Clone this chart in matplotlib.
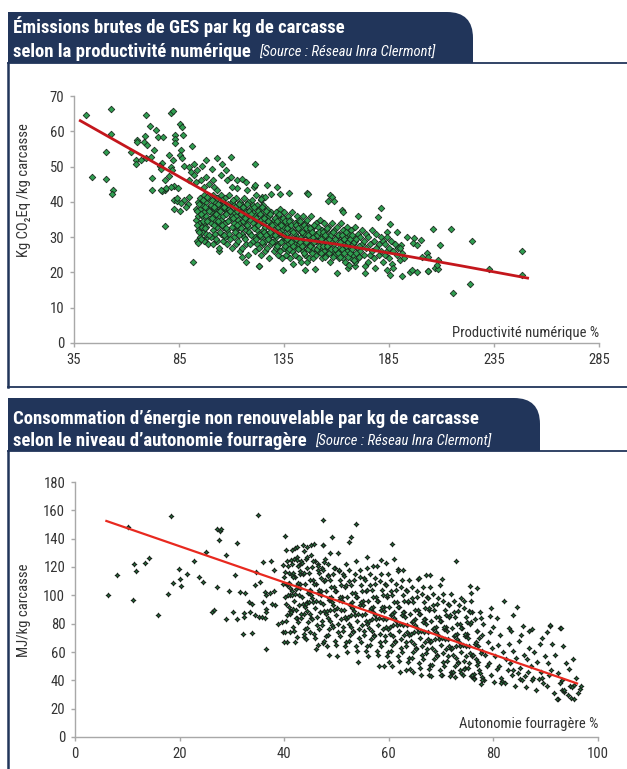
import numpy as np
import matplotlib.pyplot as plt
from matplotlib import font_manager as fm
from matplotlib.path import Path
from matplotlib.patches import PathPatch
from matplotlib.lines import Line2D

# DATA - panel 1 : GES vs productivite numerique
# scattered farms around the main cloud
prod_outer = [40.6, 52.5, 69.4, 81.0, 82.3, 52.5, 85.5, 86.6, 71.0, 73.9,
              75.2, 77.2, 83.1, 83.1, 83.1, 86.9, 69.0, 68.3, 69.6, 64.8,
              64.8, 50.1, 62.3, 73.1, 91.0, 85.8, 85.5, 86.6, 87.4, 80.2,
              82.3, 76.7, 76.0, 69.4, 71.8, 64.4, 64.4, 66.7, 81.0, 81.8,
              78.2, 80.2, 76.3, 43.4, 50.4, 53.6, 53.3, 72.0, 72.0, 78.3,
              77.1, 82.6, 84.7, 82.6, 84.2, 85.5, 82.6, 89.4, 89.8, 78.3,
              91.8, 104.0, 117.0, 123.1, 121.2, 109.6, 89.8, 92.1, 93.7, 96.1,
              97.7, 100.9, 103.3, 105.6, 107.2, 104.8, 108.0, 90.6, 92.1, 89.8,
              92.9, 95.3, 96.9, 99.3, 101.7, 103.3, 101.3, 97.7, 109.6, 112.8,
              115.2, 116.7, 120.7, 117.5, 112.8, 110.4, 123.9, 124.7, 121.5, 119.9,
              87.4, 88.2, 84.2, 85.8, 76.3, 78.7, 81.0, 93.7, 96.1, 98.5,
              94.0, 121.2, 126.8, 131.8, 137.6, 146.1, 133.1, 128.8, 126.0, 123.9,
              156.9, 158.0, 156.1, 158.8, 181.0, 162.8, 163.3, 170.4, 179.9, 185.5,
              183.9, 188.7, 206.1, 214.4, 209.3, 193.4, 197.1, 200.1, 196.6, 198.2,
              203.0, 203.7, 200.6, 208.2, 190.6, 189.5, 191.0, 190.2, 186.6, 187.1,
              183.9, 185.5, 191.0, 195.0, 196.1, 198.2, 203.7, 206.9, 208.5, 215.6,
              123.1, 134.7, 139.5, 145.0, 149.8, 160.1, 165.6, 173.6, 178.3, 173.6,
              168.8, 146.3, 224.3, 248.2, 248.2, 232.6, 223.6, 207.7, 203.7, 115.0]
ges_outer = [64.5, 66.2, 64.7, 65.2, 65.7, 59.3, 62.1, 61.2, 61.5, 60.4,
             58.3, 58.3, 59.0, 57.9, 56.7, 59.0, 58.7, 56.9, 56.0, 57.6,
             57.0, 54.1, 54.0, 54.6, 55.7, 54.6, 53.4, 52.3, 50.1, 53.4,
             51.8, 51.0, 50.1, 52.3, 52.7, 51.8, 50.6, 51.8, 49.9, 48.9,
             46.1, 47.3, 49.4, 47.1, 46.4, 43.5, 42.2, 46.9, 43.3, 43.3,
             43.1, 44.5, 43.8, 40.6, 40.2, 37.4, 38.0, 39.3, 41.4, 33.1,
             22.9, 26.1, 23.0, 21.9, 50.6, 52.8, 49.9, 50.8, 48.9, 50.3,
             51.8, 49.4, 52.3, 50.8, 48.9, 47.5, 46.1, 48.5, 47.5, 46.1,
             45.7, 46.1, 44.2, 45.2, 44.2, 43.3, 46.1, 47.1, 47.1, 46.1,
             46.6, 45.7, 44.2, 43.3, 43.8, 44.2, 40.5, 41.4, 41.9, 40.5,
             40.5, 38.6, 41.0, 39.6, 43.3, 43.8, 44.1, 29.0, 31.4, 30.0,
             28.4, 44.7, 44.7, 44.1, 42.4, 42.4, 42.1, 42.1, 41.4, 40.7,
             41.9, 41.4, 40.2, 40.3, 38.4, 37.6, 37.0, 35.9, 35.6, 33.7,
             31.5, 31.5, 32.3, 32.2, 27.8, 29.9, 29.8, 29.2, 28.2, 27.8,
             25.4, 24.5, 24.5, 23.6, 27.8, 26.9, 25.4, 23.6, 22.4, 21.2,
             20.7, 19.3, 19.0, 20.2, 20.7, 20.0, 20.4, 21.2, 21.0, 14.3,
             21.7, 20.7, 22.4, 20.7, 21.0, 19.9, 21.2, 19.8, 21.2, 21.7,
             21.9, 42.2, 28.8, 26.1, 19.3, 20.9, 16.7, 22.1, 20.5, 24.5]

# dense core of the cloud
prod_core = [93, 93, 94, 94, 94, 95, 95, 95, 95, 96, 96, 96,
             97, 97, 97, 97, 98, 98, 98, 98, 99, 99, 99, 99,
             100, 100, 100, 100, 101, 101, 101, 101, 102, 102, 102, 102,
             103, 103, 103, 103, 104, 104, 104, 104, 105, 105, 105, 105,
             106, 106, 106, 106, 107, 107, 107, 107, 108, 108, 108, 108,
             109, 109, 109, 109, 110, 110, 110, 110, 111, 111, 111, 111,
             112, 112, 112, 112, 113, 113, 113, 113, 114, 114, 114, 114,
             115, 115, 115, 115, 116, 116, 116, 116, 117, 117, 117, 117,
             118, 118, 118, 118, 119, 119, 119, 119, 120, 120, 120, 120,
             121, 121, 121, 121, 122, 122, 122, 122, 123, 123, 123, 123,
             124, 124, 124, 124, 125, 125, 125, 125, 126, 126, 126, 126,
             127, 127, 127, 127, 128, 128, 128, 128, 129, 129, 129, 129,
             130, 130, 130, 130, 131, 131, 131, 131, 132, 132, 132, 132,
             133, 133, 133, 133, 134, 134, 134, 134, 135, 135, 135, 135,
             136, 136, 136, 136, 137, 137, 137, 137, 138, 138, 138, 138,
             139, 139, 139, 139, 140, 140, 140, 140, 141, 141, 141, 141,
             142, 142, 142, 142, 143, 143, 143, 143, 144, 144, 144, 144,
             145, 145, 145, 145, 146, 146, 146, 146, 147, 147, 147, 147,
             148, 148, 148, 148, 149, 149, 149, 149, 150, 150, 150, 150,
             151, 151, 151, 152, 152, 152, 153, 153, 153, 154, 154, 154,
             155, 155, 155, 156, 156, 156, 157, 157, 157, 158, 158, 158,
             159, 159, 159, 160, 160, 160, 161, 161, 161, 162, 162, 162,
             163, 163, 163, 164, 164, 164, 165, 165, 165, 166, 166, 166,
             167, 167, 167, 168, 168, 168, 169, 169, 169, 170, 170, 170,
             171, 171, 172, 172, 173, 173, 174, 174, 175, 175, 176, 176,
             177, 177, 178, 178, 179, 179, 180, 180, 181, 181, 182, 182,
             183, 183, 184, 184, 185, 185, 186, 187, 188, 189, 190, 192]
ges_core = [38, 35, 40, 36, 32, 41, 38, 34, 30, 39, 36, 33,
            42, 37, 34, 29, 40, 36, 33, 31, 41, 38, 35, 28,
            39, 37, 34, 30, 42, 36, 32, 28, 40, 38, 35, 31,
            41, 37, 33, 29, 39, 36, 34, 27, 42, 38, 35, 31,
            40, 36, 33, 29, 41, 38, 34, 30, 39, 37, 32, 28,
            42, 38, 35, 31, 40, 36, 33, 27, 39, 37, 34, 30,
            41, 36, 32, 28, 38, 35, 33, 29, 40, 37, 34, 26,
            39, 36, 31, 27, 41, 38, 34, 30, 37, 35, 32, 28,
            40, 36, 33, 25, 38, 35, 31, 28, 39, 37, 34, 29,
            36, 33, 30, 26, 39, 35, 32, 28, 38, 34, 31, 27,
            37, 35, 30, 25, 39, 34, 32, 28, 36, 33, 29, 26,
            38, 35, 31, 27, 36, 33, 30, 24, 37, 34, 31, 28,
            35, 32, 29, 26, 37, 34, 30, 27, 36, 33, 28, 25,
            38, 34, 31, 26, 35, 32, 29, 24, 37, 33, 30, 27,
            34, 31, 29, 25, 36, 33, 28, 26, 35, 32, 30, 24,
            37, 32, 29, 26, 34, 31, 28, 25, 36, 33, 30, 27,
            35, 32, 28, 24, 33, 30, 27, 23, 36, 31, 29, 26,
            34, 31, 28, 25, 35, 32, 29, 23, 33, 30, 27, 24,
            36, 32, 28, 26, 33, 30, 27, 24, 34, 31, 29, 25,
            33, 29, 26, 35, 31, 27, 32, 28, 24, 34, 30, 26,
            32, 29, 25, 33, 30, 27, 31, 28, 23, 34, 29, 26,
            32, 28, 25, 33, 30, 26, 31, 27, 24, 34, 29, 25,
            32, 28, 24, 30, 27, 23, 33, 29, 26, 31, 28, 22,
            32, 27, 24, 30, 28, 25, 33, 29, 23, 31, 27, 24,
            30, 26, 32, 28, 29, 25, 31, 27, 30, 23, 28, 25,
            32, 26, 29, 24, 31, 27, 28, 25, 30, 26, 29, 23,
            28, 25, 30, 26, 27, 24, 29, 26, 28, 25, 27, 24]

# in-between farms of the core (half-unit productivity)
prod_mid = [93.5, 93.5, 94.5, 94.5, 95.5, 95.5, 96.5, 96.5, 97.5, 97.5, 98.5, 98.5,
            99.5, 99.5, 100.5, 100.5, 101.5, 101.5, 102.5, 102.5, 103.5, 103.5, 104.5, 104.5,
            105.5, 105.5, 106.5, 106.5, 107.5, 107.5, 108.5, 108.5, 109.5, 109.5, 110.5, 110.5,
            111.5, 111.5, 112.5, 112.5, 113.5, 113.5, 114.5, 114.5, 115.5, 115.5, 116.5, 116.5,
            117.5, 117.5, 118.5, 118.5, 119.5, 119.5, 120.5, 120.5, 121.5, 121.5, 122.5, 122.5,
            123.5, 123.5, 124.5, 124.5, 125.5, 125.5, 126.5, 126.5, 127.5, 127.5, 128.5, 128.5,
            129.5, 129.5, 130.5, 130.5, 131.5, 131.5, 132.5, 132.5, 133.5, 133.5, 134.5, 134.5,
            135.5, 135.5, 136.5, 136.5, 137.5, 137.5, 138.5, 138.5, 139.5, 139.5, 140.5, 140.5,
            141.5, 141.5, 142.5, 142.5, 143.5, 143.5, 144.5, 144.5, 145.5, 145.5, 146.5, 146.5,
            147.5, 147.5, 148.5, 148.5, 149.5, 149.5, 150.5, 150.5, 151.5, 151.5, 152.5, 152.5,
            153.5, 153.5, 154.5, 154.5, 155.5, 155.5, 156.5, 156.5, 157.5, 157.5, 158.5, 158.5,
            159.5, 159.5, 160.5, 160.5, 161.5, 161.5, 162.5, 162.5, 163.5, 163.5, 164.5, 164.5,
            165.5, 165.5, 166.5, 166.5, 167.5, 167.5, 168.5, 168.5, 169.5, 169.5, 170.5, 170.5]
ges_mid = [37.5, 33.5, 39.5, 31.5, 36.5, 29.5, 40.5, 34.5, 38.5, 32.5, 41.5, 34.5,
           37.5, 30.5, 40.5, 35.5, 38.5, 33.5, 36.5, 29.5, 39.5, 34.5, 37.5, 31.5,
           40.5, 33.5, 38.5, 30.5, 36.5, 32.5, 39.5, 34.5, 37.5, 29.5, 40.5, 35.5,
           38.5, 31.5, 37.5, 33.5, 39.5, 30.5, 36.5, 32.5, 38.5, 34.5, 35.5, 29.5,
           39.5, 33.5, 37.5, 31.5, 36.5, 30.5, 38.5, 32.5, 35.5, 29.5, 37.5, 33.5,
           36.5, 30.5, 38.5, 28.5, 35.5, 31.5, 37.5, 30.5, 34.5, 29.5, 36.5, 31.5,
           33.5, 28.5, 35.5, 30.5, 34.5, 27.5, 36.5, 31.5, 33.5, 28.5, 35.5, 30.5,
           34.5, 27.5, 32.5, 29.5, 34.5, 26.5, 33.5, 28.5, 31.5, 27.5, 33.5, 29.5,
           32.5, 26.5, 34.5, 28.5, 31.5, 27.5, 33.5, 25.5, 32.5, 28.5, 30.5, 26.5,
           32.5, 27.5, 31.5, 25.5, 33.5, 28.5, 30.5, 26.5, 31.5, 27.5, 29.5, 25.5,
           31.5, 27.5, 30.5, 24.5, 32.5, 27.5, 29.5, 25.5, 30.5, 26.5, 31.5, 24.5,
           29.5, 26.5, 30.5, 25.5, 28.5, 24.5, 30.5, 26.5, 29.5, 25.5, 31.5, 27.5,
           28.5, 24.5, 29.5, 25.5, 30.5, 26.5, 28.5, 23.5, 29.5, 25.5, 27.5, 24.5]

# red trend curve
trend_prod = [38, 136, 160, 190, 220, 251]
trend_ges = [63.0, 30.0, 28.0, 25.0, 21.8, 18.4]

# DATA - panel 2 : energie vs autonomie fourragere
auto_outer = [6.4, 8.1, 10.2, 11.3, 11.6, 11.1, 13.4, 14.2, 15.9, 18.4,
              17.7, 18.7, 19.8, 20.0, 20.2, 21.4, 22.8, 23.8, 24.4, 25.0,
              27.1, 27.7, 27.9, 27.6, 28.9, 27.1, 29.5, 30.9, 30.6, 26.2,
              26.5, 28.9, 30.3, 31.0, 32.1, 33.9, 31.6, 32.5, 32.3, 32.3,
              33.3, 33.8, 33.5, 34.4, 35.1, 35.7, 36.3, 34.9, 35.9, 37.5,
              38.1, 39.8, 34.7, 35.4, 34.4, 36.3, 37.3, 38.1, 36.5, 40.2,
              47.4, 41.4, 42.0, 42.4, 43.6, 44.3, 45.2, 45.7, 47.5, 38.2,
              36.6, 36.5, 37.6, 35.9, 36.6, 39.5, 38.9, 39.8, 40.5, 41.1,
              42.4, 43.7, 44.9, 46.5, 47.5, 48.5, 40.0, 43.7, 42.4, 41.1,
              41.7, 44.3, 41.1, 42.2, 39.8, 40.2, 41.4, 43.1, 42.8, 44.1,
              45.1, 46.4, 47.7, 48.4, 57.0, 53.7, 49.1, 52.3, 52.7, 60.6,
              47.5, 48.8, 50.2, 72.8, 61.8, 62.7, 65.5, 67.1, 67.8, 70.2,
              75.5, 76.8, 75.7, 82.1, 84.6, 83.8, 79.3, 80.7, 82.9, 85.6,
              86.9, 90.8, 92.7, 90.2, 59.1, 60.7, 63.2, 64.7, 67.6, 72.6,
              76.3, 77.6, 77.9, 86.1, 85.1, 87.3, 89.2, 81.7, 81.5, 83.8,
              94.8, 92.3, 93.5, 93.2, 96.5, 95.5, 55.8, 58.5, 59.5, 61.0]
mj_outer = [100.5, 114.1, 148.2, 121.9, 116.9, 96.5, 123.0, 126.3, 86.0, 156.0,
            101.2, 109.0, 118.8, 111.8, 106.3, 114.8, 124.1, 112.9, 109.6, 130.4,
            146.6, 145.2, 146.6, 138.8, 128.8, 105.6, 103.4, 137.2, 114.6, 88.2,
            89.4, 83.5, 88.2, 83.5, 72.5, 73.2, 102.2, 101.7, 87.5, 84.7,
            95.3, 93.6, 88.2, 85.9, 84.7, 84.5, 84.2, 156.4, 123.6, 124.5,
            118.2, 121.2, 116.8, 109.3, 107.4, 102.7, 101.5, 103.4, 62.4, 141.8,
            153.2, 131.7, 133.3, 134.0, 135.2, 134.0, 135.7, 136.4, 135.2, 93.4,
            90.7, 88.3, 94.1, 95.3, 100.0, 81.1, 80.0, 74.1, 67.0, 74.1,
            70.6, 70.6, 74.1, 64.7, 66.6, 57.7, 67.0, 86.7, 84.3, 86.7,
            90.3, 95.3, 100.0, 104.7, 108.3, 116.6, 114.2, 115.4, 121.3, 126.0,
            128.4, 117.8, 123.7, 114.2, 121.0, 150.6, 141.2, 137.6, 141.2, 136.0,
            135.3, 130.0, 129.8, 123.9, 118.3, 117.6, 111.8, 114.6, 114.6, 111.8,
            106.3, 105.4, 101.7, 95.7, 91.7, 85.9, 85.2, 84.0, 77.2, 78.2,
            74.9, 78.2, 76.8, 74.0, 50.1, 49.8, 47.5, 45.9, 44.0, 42.4,
            44.7, 37.7, 42.4, 42.9, 41.1, 40.0, 41.9, 39.7, 38.4, 47.5,
            27.8, 27.1, 31.9, 33.0, 34.0, 37.0, 127.0, 125.0, 123.0, 126.0]

auto_core = [40.1, 40.6, 40.3, 40.8, 40.5, 40.0, 40.7, 40.4, 41.7, 41.2, 41.9, 41.4, 41.0, 41.6, 41.3, 41.8,
             42.1, 42.6, 42.3, 42.8, 42.5, 42.0, 42.7, 42.4, 43.7, 43.2, 43.9, 43.4, 43.0, 43.6, 43.3, 43.8,
             44.1, 44.6, 44.3, 44.8, 44.5, 44.0, 44.7, 44.4, 45.7, 45.2, 45.9, 45.4, 45.0, 45.6, 45.3, 45.8,
             46.1, 46.6, 46.3, 46.8, 46.5, 46.0, 46.7, 46.4, 47.7, 47.2, 47.9, 47.4, 47.0, 47.6, 47.3, 47.8,
             48.1, 48.6, 48.3, 48.8, 48.5, 48.0, 48.7, 48.4, 49.7, 49.2, 49.9, 49.4, 49.0, 49.6, 49.3, 49.8,
             50.1, 50.6, 50.3, 50.8, 50.5, 50.0, 50.7, 50.4, 51.7, 51.2, 51.9, 51.4, 51.0, 51.6, 51.3, 51.8,
             52.1, 52.6, 52.3, 52.8, 52.5, 52.0, 52.7, 52.4, 53.7, 53.2, 53.9, 53.4, 53.0, 53.6, 53.3, 53.8,
             54.1, 54.6, 54.3, 54.8, 54.5, 54.0, 54.7, 54.4, 55.7, 55.2, 55.9, 55.4, 55.0, 55.6, 55.3, 55.8,
             56.1, 56.6, 56.3, 56.8, 56.5, 56.0, 56.7, 56.4, 57.7, 57.2, 57.9, 57.4, 57.0, 57.6, 57.3, 57.8,
             58.1, 58.6, 58.3, 58.8, 58.5, 58.0, 58.7, 58.4, 59.7, 59.2, 59.9, 59.4, 59.0, 59.6, 59.3, 59.8,
             60.1, 60.6, 60.3, 60.8, 60.5, 60.0, 60.7, 60.4, 61.7, 61.2, 61.9, 61.4, 61.0, 61.6, 61.3, 61.8,
             62.1, 62.6, 62.3, 62.8, 62.5, 62.0, 62.7, 62.4, 63.7, 63.2, 63.9, 63.4, 63.0, 63.6, 63.3, 63.8,
             64.1, 64.6, 64.3, 64.8, 64.5, 64.0, 64.7, 64.4, 65.7, 65.2, 65.9, 65.4, 65.0, 65.6, 65.3, 65.8,
             66.1, 66.6, 66.3, 66.8, 66.5, 66.0, 66.7, 66.4, 67.7, 67.2, 67.9, 67.4, 67.0, 67.6, 67.3, 67.8,
             68.1, 68.6, 68.3, 68.8, 68.5, 68.0, 68.7, 68.4, 69.7, 69.2, 69.9, 69.4, 69.0, 69.6, 69.3, 69.8,
             70.1, 70.6, 70.3, 70.8, 70.5, 70.0, 70.7, 70.4, 71.7, 71.2, 71.9, 71.4, 71.0, 71.6, 71.3, 71.8,
             72.1, 72.6, 72.3, 72.8, 72.5, 72.0, 72.7, 72.4, 73.7, 73.2, 73.9, 73.4, 73.0, 73.6, 73.3, 73.8,
             74.1, 74.6, 74.3, 74.8, 74.5, 74.0, 74.7, 74.4, 75.7, 75.2, 75.9, 75.4, 75.0, 75.6, 75.3, 75.8,
             76.2, 76.7, 76.4, 76.9, 76.0, 77.5, 77.1, 77.8, 77.3, 77.6,
             78.2, 78.7, 78.4, 78.9, 78.0, 79.5, 79.1, 79.8, 79.3, 79.6,
             80.2, 80.7, 80.4, 80.9, 80.0, 81.5, 81.1, 81.8, 81.3,
             82.2, 82.7, 82.4, 82.9, 83.5, 83.1, 83.8, 83.3,
             84.2, 84.7, 84.4, 84.9, 85.5, 85.1, 85.8, 85.3,
             86.2, 86.7, 86.4, 86.9, 87.5, 87.1, 87.8, 87.3,
             88.2, 88.7, 88.4, 88.9, 89.5, 89.1, 89.8, 89.3,
             90.2, 90.7, 90.4, 90.9, 91.5, 91.1, 91.8, 91.3,
             92.2, 92.7, 92.4, 92.9, 93.5, 93.1, 93.8, 93.3,
             94.2, 94.7, 94.4, 95.5, 95.1, 95.8, 95.3, 96.2, 96.7]
mj_core = [74, 86, 94, 100, 107, 113, 121, 132, 78, 89, 96, 103, 109, 116, 125, 126,
           67, 81, 90, 100, 107, 113, 121, 127, 73, 84, 92, 99, 108, 115, 124, 131,
           69, 81, 89, 95, 102, 108, 116, 127, 73, 84, 91, 98, 104, 111, 120, 124,
           62, 76, 85, 95, 102, 108, 116, 122, 68, 79, 87, 94, 103, 110, 119, 126,
           64, 76, 84, 90, 97, 103, 111, 122, 68, 79, 86, 93, 99, 106, 115, 119,
           57, 71, 80, 90, 97, 103, 111, 117, 64, 75, 83, 90, 99, 106, 115, 122,
           60, 72, 80, 86, 93, 99, 107, 118, 64, 75, 82, 89, 95, 102, 111, 124,
           53, 67, 76, 86, 93, 99, 107, 113, 61, 72, 80, 87, 96, 103, 112, 119,
           57, 69, 77, 83, 90, 96, 104, 115, 61, 72, 79, 86, 92, 99, 108, 121,
           50, 64, 73, 83, 90, 96, 104, 110, 57, 68, 76, 83, 92, 99, 108, 115,
           53, 65, 73, 79, 86, 92, 100, 111, 57, 68, 75, 82, 88, 95, 104, 117,
           46, 60, 69, 79, 86, 92, 100, 106, 53, 64, 72, 79, 88, 95, 104, 111,
           48, 60, 68, 74, 81, 87, 95, 106, 52, 63, 70, 77, 83, 90, 99, 112,
           44, 55, 64, 74, 81, 87, 95, 101, 48, 59, 67, 74, 83, 90, 99, 106,
           43, 55, 63, 69, 76, 82, 90, 101, 47, 58, 65, 72, 78, 85, 94, 107,
           44, 50, 59, 69, 76, 82, 90, 96, 43, 54, 62, 69, 78, 85, 94, 101,
           45, 50, 58, 64, 71, 77, 85, 96, 47, 53, 60, 67, 73, 80, 89, 98,
           44, 49, 54, 64, 71, 77, 85, 91, 43, 49, 57, 64, 73, 80, 89, 96,
           42, 55, 66, 75, 88, 45, 53, 61, 70, 84,
           40, 50, 58, 67, 80, 44, 52, 63, 74, 91,
           39, 48, 57, 65, 78, 42, 50, 60, 72,
           38, 47, 55, 66, 44, 52, 61, 75,
           36, 45, 56, 68, 40, 49, 58, 72,
           35, 46, 55, 63, 42, 50, 60, 76,
           33, 41, 53, 66, 38, 46, 57, 70,
           36, 44, 52, 79, 31, 47, 58, 66,
           27, 38, 45, 77, 33, 40, 52, 64,
           30, 36, 48, 27, 35, 42, 55, 31, 36]

# second layer of the dense part
auto_mid = [40.35, 40.85, 40.15, 40.65, 40.95, 40.45, 41.9, 41.25, 41.55, 41.05, 41.75, 41.45,
            42.35, 42.85, 42.15, 42.65, 42.95, 42.45, 43.9, 43.25, 43.55, 43.05, 43.75, 43.45,
            44.35, 44.85, 44.15, 44.65, 44.95, 44.45, 45.9, 45.25, 45.55, 45.05, 45.75, 45.45,
            46.35, 46.85, 46.15, 46.65, 46.95, 46.45, 47.9, 47.25, 47.55, 47.05, 47.75, 47.45,
            48.35, 48.85, 48.15, 48.65, 48.95, 48.45, 49.9, 49.25, 49.55, 49.05, 49.75, 49.45,
            50.35, 50.85, 50.15, 50.65, 50.95, 50.45, 51.9, 51.25, 51.55, 51.05, 51.75, 51.45,
            52.35, 52.85, 52.15, 52.65, 52.95, 52.45, 53.9, 53.25, 53.55, 53.05, 53.75, 53.45,
            54.35, 54.85, 54.15, 54.65, 54.95, 54.45, 55.9, 55.25, 55.55, 55.05, 55.75, 55.45,
            56.35, 56.85, 56.15, 56.65, 56.95, 56.45, 57.9, 57.25, 57.55, 57.05, 57.75, 57.45,
            58.35, 58.85, 58.15, 58.65, 58.95, 58.45, 59.9, 59.25, 59.55, 59.05, 59.75, 59.45,
            60.35, 60.85, 60.15, 60.65, 60.95, 60.45, 61.9, 61.25, 61.55, 61.05, 61.75, 61.45,
            62.35, 62.85, 62.15, 62.65, 62.95, 62.45, 63.9, 63.25, 63.55, 63.05, 63.75, 63.45,
            64.35, 64.85, 64.15, 64.65, 64.95, 64.45, 65.9, 65.25, 65.55, 65.05, 65.75, 65.45,
            66.35, 66.85, 66.15, 66.65, 66.95, 66.45, 67.9, 67.25, 67.55, 67.05, 67.75, 67.45,
            68.35, 68.85, 68.15, 68.65, 68.95, 68.45, 69.9, 69.25, 69.55, 69.05, 69.75, 69.45,
            70.35, 70.85, 70.15, 70.65, 70.95, 70.45, 71.9, 71.25, 71.55, 71.05, 71.75, 71.45,
            72.35, 72.85, 72.15, 72.65, 72.95, 72.45, 73.9, 73.25, 73.55, 73.05, 73.75, 73.45,
            74.35, 74.85, 74.15, 74.65, 74.95, 74.45, 75.9, 75.25, 75.55, 75.05, 75.75, 75.45,
            76.35, 76.85, 76.15, 76.65, 76.95, 76.45, 77.9, 77.25, 77.55, 77.05, 77.75, 77.45]
mj_mid = [82, 92, 99, 108, 116, 124, 75, 88, 100, 105, 113, 122,
          84, 93, 101, 109, 117, 125, 76, 87, 94, 105, 116, 123,
          77, 87, 94, 103, 111, 119, 70, 83, 95, 100, 108, 124,
          79, 88, 96, 104, 112, 121, 71, 82, 89, 100, 111, 118,
          72, 82, 89, 98, 106, 114, 65, 78, 90, 95, 103, 119,
          74, 83, 91, 99, 107, 118, 67, 78, 85, 96, 107, 114,
          68, 78, 85, 94, 102, 110, 61, 74, 86, 91, 99, 115,
          70, 79, 87, 95, 103, 118, 64, 75, 82, 93, 104, 111,
          65, 75, 82, 91, 99, 107, 58, 71, 83, 88, 96, 112,
          67, 76, 84, 92, 100, 115, 60, 71, 78, 89, 100, 107,
          61, 71, 78, 87, 95, 103, 54, 67, 79, 84, 92, 108,
          63, 72, 80, 88, 96, 111, 56, 67, 74, 85, 96, 103,
          56, 66, 73, 82, 90, 98, 49, 62, 74, 79, 87, 103,
          58, 67, 75, 83, 91, 106, 51, 62, 69, 80, 91, 98,
          51, 61, 68, 77, 85, 93, 44, 57, 69, 74, 82, 98,
          53, 62, 70, 78, 86, 101, 46, 57, 64, 75, 86, 93,
          46, 56, 63, 72, 80, 88, 45, 52, 64, 69, 77, 93,
          48, 57, 65, 73, 81, 96, 44, 52, 59, 70, 81, 88,
          41, 51, 58, 67, 75, 83, 40, 47, 59, 64, 72, 88]

trend_auto = [6, 96]
trend_mj = [152.5, 37.8]

# FONT : condensed face like the original (Myriad Condensed)
names = {f.name for f in fm.fontManager.ttflist}
cond_fonts = {f.name for f in fm.fontManager.ttflist
              if str(f.stretch) not in ('normal', '500')}
FAMILY = 'DejaVu Sans'
STRETCH = 'normal'
for cand in ['Liberation Sans Narrow', 'Roboto Condensed', 'Open Sans Condensed',
             'Noto Sans Condensed', 'DejaVu Sans Condensed']:
    if cand in names:
        FAMILY = cand
        break
else:
    for pref in ['Roboto', 'Noto Sans', 'Open Sans', 'DejaVu Sans']:
        if pref in cond_fonts:
            FAMILY, STRETCH = pref, 'condensed'
            break

# FIGURE SETUP
W, H = 627, 769
plt.rcParams['font.family'] = [FAMILY, 'DejaVu Sans']
plt.rcParams['font.stretch'] = STRETCH
fig = plt.figure(figsize=(W / 100, H / 100), dpi=100)
NAVY = '#21355a'
TXT = '#333333'


def fx(x):
    return x / W


def fy(y):
    return 1 - y / H


def header(top, bottom, right, r=26):
    # dark banner with a rounded top-right corner
    pts = [(8, bottom), (8, top), (right - r, top), (right, top),
           (right, top + r), (right, bottom), (8, bottom)]
    codes = [Path.MOVETO, Path.LINETO, Path.LINETO, Path.CURVE3,
             Path.CURVE3, Path.LINETO, Path.CLOSEPOLY]
    pts = [(fx(x), fy(y)) for x, y in pts]
    fig.add_artist(PathPatch(Path(pts, codes), fc=NAVY, ec='none',
                             transform=fig.transFigure))


def hline(x0, x1, y):
    fig.add_artist(Line2D([fx(x0), fx(x1)], [fy(y), fy(y)], color=NAVY,
                          lw=1.3, transform=fig.transFigure))


def vline(x, y0, y1):
    fig.add_artist(Line2D([fx(x), fx(x)], [fy(y0), fy(y1)], color=NAVY,
                          lw=1.8, transform=fig.transFigure))


def titles(line1, line2, y1, y2):
    fig.text(fx(13), fy(y1), line1, color='white', fontsize=13.5,
             fontweight='bold', va='baseline')
    t = fig.text(fx(13), fy(y2), line2, color='white', fontsize=13.5,
                 fontweight='bold', va='baseline')
    bb = t.get_window_extent(renderer=fig.canvas.get_renderer())
    fig.text(bb.x1 / fig.bbox.width + fx(8), fy(y2),
             '[Source : Réseau Inra Clermont]', color='white',
             fontsize=10.5, style='italic', va='baseline')


def style_axes(ax):
    for s in ['top', 'right']:
        ax.spines[s].set_visible(False)
    for s in ['left', 'bottom']:
        ax.spines[s].set_color('#a8a8a8')
        ax.spines[s].set_linewidth(1.0)
    ax.tick_params(direction='out', length=3, width=1, color='#a8a8a8',
                   labelcolor=TXT, labelsize=10.5, pad=4)


# PANEL 1
header(12, 63, 473)
hline(8, W, 63)
vline(8, 63, 387)
hline(8, W, 387)
titles('Émissions brutes de GES par kg de carcasse',
       'selon la productivité numérique', 33, 57)

ax1 = fig.add_axes([fx(74), fy(343), (599 - 74) / W, (343 - 96) / H])
ax1.scatter(prod_outer + prod_core + prod_mid, ges_outer + ges_core + ges_mid,
            marker='D', s=11, fc='#2f9e50', ec='#1b2a1e', lw=0.6, zorder=2)
ax1.plot(trend_prod, trend_ges, color='#c4161c', lw=2.0, zorder=3)
ax1.set_xlim(35, 285)
ax1.set_ylim(0, 70)
ax1.set_xticks([35, 85, 135, 185, 235, 285])
ax1.set_yticks(range(0, 71, 10))
style_axes(ax1)
ax1.text(1.0, 0.025, 'Productivité numérique %', transform=ax1.transAxes,
         ha='right', va='baseline', fontsize=10.5, color=TXT)
fig.text(fx(24), fy(190), 'Kg CO₂Eq /kg carcasse', rotation=90,
         ha='center', va='center', fontsize=10.5, color=TXT)

# PANEL 2
header(398, 451, 540)
hline(8, W, 451)
vline(8, 451, H)
titles('Consommation d\u2019énergie non renouvelable par kg de carcasse',
       'selon le niveau d\u2019autonomie fourragère', 424, 446)

ax2 = fig.add_axes([fx(75), fy(737), (598 - 75) / W, (737 - 482) / H])
ax2.scatter(auto_outer + auto_core + auto_mid, mj_outer + mj_core + mj_mid,
            marker=(4, 1, 0), s=11, fc='#2b8a49', ec='#18221a', lw=0.8, zorder=2)
ax2.plot(trend_auto, trend_mj, color='#e8291f', lw=1.6, zorder=3)
ax2.set_xlim(0, 100)
ax2.set_ylim(0, 180)
ax2.set_xticks(range(0, 101, 20))
ax2.set_yticks(range(0, 181, 20))
style_axes(ax2)
ax2.text(1.0, 0.035, 'Autonomie fourragère %', transform=ax2.transAxes,
         ha='right', va='baseline', fontsize=10.5, color=TXT)
fig.text(fx(24), fy(610), 'MJ/kg carcasse', rotation=90,
         ha='center', va='center', fontsize=10.5, color=TXT)

fig.savefig('out.png', dpi=100)
